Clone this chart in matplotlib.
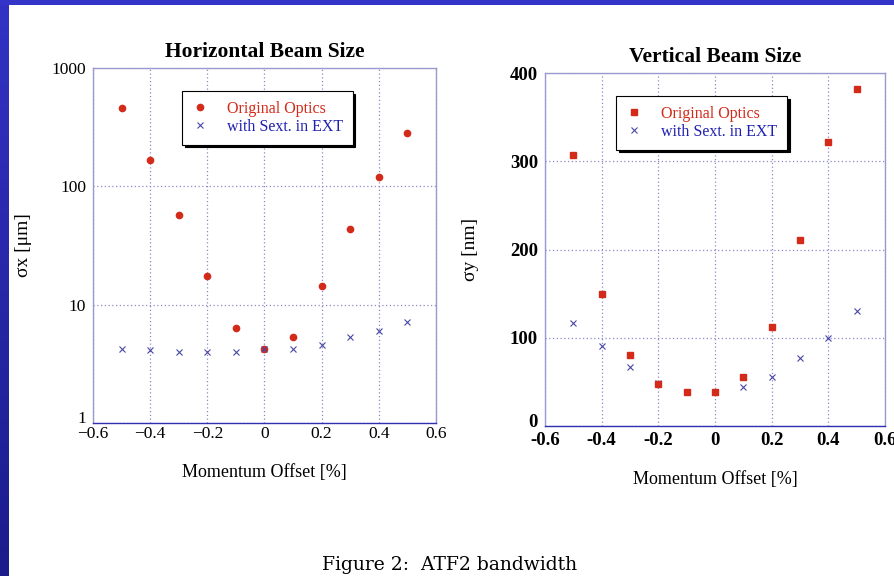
import numpy as np
import matplotlib
matplotlib.use("Agg")
import matplotlib.pyplot as plt
import matplotlib.patches as patches
import matplotlib.transforms as mtransforms
from matplotlib.ticker import FixedLocator, FixedFormatter

# momentum offset [%]
offset = [-0.5, -0.4, -0.3, -0.2, -0.1, 0.0, 0.1, 0.2, 0.3, 0.4, 0.5]

# horizontal beam size [um]
sx_orig = [458, 166, 57, 17.6, 6.3, 4.2, 5.3, 14.5, 44, 119, 282]
sx_sext = [4.2, 4.1, 4.0, 3.95, 4.0, 4.2, 4.2, 4.6, 5.3, 6.0, 7.1]

# vertical beam size [nm]
sy_orig = [307, 150, 80, 48, 39, 39, 55, 112, 211, 322, 382]
sy_sext = [117, 91, 67, 49, 39, 39, 44, 55, 77, 100, 130]

x_ticks = [-0.6, -0.4, -0.2, 0, 0.2, 0.4, 0.6]
x_ticklabels = ["\u22120.6", "\u22120.4", "\u22120.2", "0", "0.2", "0.4", "0.6"]
x_ticklabels_v = ["-0.6", "-0.4", "-0.2", "0", "0.2", "0.4", "0.6"]
sx_ticks = [1, 10, 100, 1000]
sy_ticks = [0, 100, 200, 300, 400]

RED = "#d42a1a"
BLUE = "#4848a8"
GRID = "#8a8ac8"
SERIF = ["Liberation Serif", "DejaVu Serif"]

plt.rcParams["font.family"] = SERIF

fig = plt.figure(figsize=(8.95, 5.76), dpi=100)
fig.patch.set_facecolor("white")

# slide background: blue top bar and left strip
fig.patches.append(patches.Rectangle((0, 1 - 5 / 576), 1, 5 / 576, transform=fig.transFigure,
                                     facecolor="#3434c8", edgecolor="none", zorder=0))
strip = fig.add_axes([0, 0, 9 / 895, 1 - 5 / 576])
grad = np.linspace(0, 1, 200).reshape(-1, 1)
strip.imshow(grad, aspect="auto", cmap=matplotlib.colors.LinearSegmentedColormap.from_list(
    "b", ["#3232c4", "#1c1c8c"]))
strip.axis("off")


def style_axes(ax, xlabels, tsize, xpad):
    ax.set_xlim(-0.6, 0.6)
    ax.xaxis.set_major_locator(FixedLocator(x_ticks))
    ax.xaxis.set_major_formatter(FixedFormatter(xlabels))
    ax.grid(True, which="major", color=GRID, linestyle=(0, (1, 2)), linewidth=0.9)
    ax.tick_params(length=0, labelsize=tsize)
    ax.tick_params(axis="x", pad=xpad)
    ax.tick_params(axis="y", pad=5)
    for s in ax.spines.values():
        s.set_color("#9a9ad0")
        s.set_linewidth(1.0)
    ax.spines["bottom"].set_color("#3030b0")
    ax.set_xlabel("Momentum Offset [%]", fontsize=13, labelpad=16)
    # lift the lowest y label a little, like the original
    lab = ax.get_yticklabels()[0]
    lab.set_transform(lab.get_transform() + mtransforms.ScaledTranslation(0, 4 / 72, fig.dpi_scale_trans))


def add_legend(ax, anchor, handles, labels):
    leg = ax.legend(handles, labels, loc="upper left", bbox_to_anchor=anchor, frameon=True,
                    fancybox=False, shadow={"color": "black", "alpha": 1.0}, edgecolor="black",
                    fontsize=11.5, handlelength=1.0, handletextpad=1.2, borderpad=0.6,
                    labelspacing=0.15, borderaxespad=0)
    leg.get_frame().set_linewidth(0.8)
    for t, c in zip(leg.get_texts(), [RED, "#2020b0"]):
        t.set_color(c)


# horizontal
ax1 = fig.add_axes([93 / 895, 1 - 423 / 576, 343 / 895, 355 / 576])
ax1.set_yscale("log")
ax1.set_ylim(1, 1000)
ax1.plot(offset, sx_orig, "o", color=RED, markersize=4.5, label="Original Optics", zorder=3)
ax1.plot(offset, sx_sext, "x", color=BLUE, markersize=5, markeredgewidth=0.8,
         label="with Sext. in EXT", zorder=3)
ax1.yaxis.set_major_locator(FixedLocator(sx_ticks))
ax1.yaxis.set_major_formatter(FixedFormatter([str(v) for v in sx_ticks]))
ax1.yaxis.set_minor_locator(FixedLocator([]))
style_axes(ax1, x_ticklabels, 12.5, 2)
ax1.set_title("Horizontal Beam Size", fontsize=15.5, fontweight="bold", pad=8)
ax1.set_ylabel("\u03c3x [\u03bcm]", fontsize=14, labelpad=14)
h, l = ax1.get_legend_handles_labels()
add_legend(ax1, (0.26, 0.935), h, l)

# vertical
ax2 = fig.add_axes([545 / 895, 1 - 426 / 576, 340 / 895, 353 / 576])
ax2.set_ylim(0, 400)
ax2.plot(offset, sy_sext, "x", color=BLUE, markersize=5, markeredgewidth=0.8,
         label="with Sext. in EXT", zorder=3)
ax2.plot(offset, sy_orig, "s", color=RED, markersize=4.5, label="Original Optics", zorder=3)
ax2.yaxis.set_major_locator(FixedLocator(sy_ticks))
ax2.yaxis.set_major_formatter(FixedFormatter([str(v) for v in sy_ticks]))
style_axes(ax2, x_ticklabels_v, 13.5, 4)
for lab in ax2.get_xticklabels() + ax2.get_yticklabels():
    lab.set_fontweight("bold")
ax2.set_title("Vertical Beam Size", fontsize=15.5, fontweight="bold", pad=8)
ax2.set_ylabel("\u03c3y [nm]", fontsize=14, labelpad=22)
h, l = ax2.get_legend_handles_labels()
add_legend(ax2, (0.21, 0.935), h[::-1], l[::-1])

fig.text(450 / 895, 1 - 565 / 576, "Figure 2:  ATF2 bandwidth", ha="center", va="center",
         fontsize=13.5, family=["DejaVu Serif"])

fig.savefig("out.png", dpi=100, facecolor=fig.get_facecolor())
